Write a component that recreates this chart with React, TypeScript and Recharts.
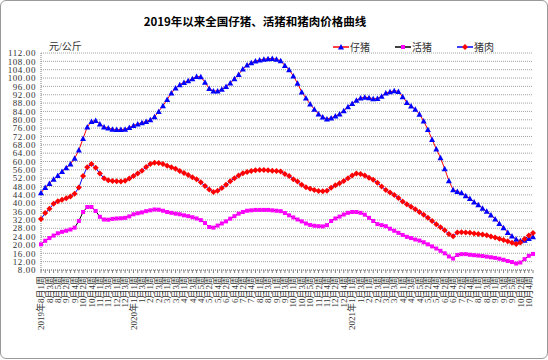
import { CartesianGrid, Line, LineChart, XAxis, YAxis } from 'recharts';

const weeks = [
  '2019年8月1周', '8月2周', '8月3周', '8月4周', '8月5周', '9月1周', '9月2周', '9月3周', '9月4周',
  '10月1周', '10月2周', '10月3周', '10月4周', '10月5周', '11月1周', '11月2周', '11月3周', '11月4周',
  '12月1周', '12月2周', '12月3周', '12月4周',
  '2020年1月1周', '1月2周', '1月3周', '1月4周', '2月1周', '2月2周', '2月3周', '2月4周',
  '3月1周', '3月2周', '3月3周', '3月4周', '4月1周', '4月2周', '4月3周', '4月4周', '4月5周',
  '5月1周', '5月2周', '5月3周', '5月4周', '6月1周', '6月2周', '6月3周', '6月4周',
  '7月1周', '7月2周', '7月3周', '7月4周', '7月5周', '8月1周', '8月2周', '8月3周', '8月4周',
  '9月1周', '9月2周', '9月3周', '9月4周', '10月1周', '10月2周', '10月3周', '10月4周', '10月5周',
  '11月1周', '11月2周', '11月3周', '11月4周', '12月1周', '12月2周', '12月3周', '12月4周', '12月5周',
  '2021年1月1周', '1月2周', '1月3周', '1月4周', '2月1周', '2月2周', '2月3周', '2月4周',
  '3月1周', '3月2周', '3月3周', '3月4周', '4月1周', '4月2周', '4月3周', '4月4周', '4月5周',
  '5月1周', '5月2周', '5月3周', '5月4周', '6月1周', '6月2周', '6月3周', '6月4周',
  '7月1周', '7月2周', '7月3周', '7月4周', '7月5周', '8月1周', '8月2周', '8月3周', '8月4周',
  '9月1周', '9月2周', '9月3周', '9月4周', '9月5周', '10月1周', '10月2周', '10月3周', '10月4周',
  '11月1周',
];

// 仔猪
const piglet = [
  45.0, 47.5, 49.5, 51.5, 53.3, 55.2, 57.0, 58.8, 61.5, 65.5,
  71.0, 76.5, 79.2, 79.6, 78.0, 76.5, 76.0, 75.5, 75.3, 75.3,
  75.5, 76.3, 77.3, 78.0, 78.6, 79.2, 80.0, 81.4, 84.0, 86.7,
  89.7, 92.8, 95.2, 96.8, 97.9, 98.7, 99.7, 100.7, 100.6, 98.0,
  95.0, 93.8, 93.8, 94.6, 96.0, 97.6, 99.6, 101.7, 104.3, 106.2,
  107.3, 108.2, 108.6, 109.0, 109.3, 109.4, 109.0, 108.3, 106.0, 104.0,
  101.0, 97.5, 93.3, 90.4, 87.5, 85.0, 82.8, 81.3, 80.4, 80.9,
  81.8, 82.8, 84.3, 86.2, 87.8, 89.4, 90.4, 90.8, 90.6, 90.1,
  90.2, 91.3, 92.8, 93.4, 93.9, 93.6, 91.0, 88.3, 86.6, 85.0,
  82.7, 79.4, 75.3, 70.6, 66.0, 61.8, 56.5, 50.8, 46.5, 45.6,
  45.0, 43.6, 42.3, 40.6, 39.3, 37.6, 36.1, 34.3, 32.5, 30.3,
  28.3, 26.0, 24.3, 22.7, 22.0, 22.3, 23.1, 23.9,
];

// 活猪
const hog = [
  20.3, 22.0, 23.3, 24.5, 25.6, 26.3, 26.8, 27.4, 28.3, 31.5,
  35.8, 38.2, 38.2, 36.3, 33.5, 32.2, 32.1, 32.5, 32.7, 32.8,
  33.0, 33.7, 34.7, 35.2, 35.6, 36.2, 36.6, 37.0, 36.9, 36.4,
  35.8, 35.4, 35.0, 34.7, 34.2, 33.8, 33.3, 32.7, 31.9, 30.5,
  28.6, 28.3, 29.3, 30.3, 31.3, 32.6, 33.8, 35.0, 35.8, 36.4,
  36.6, 36.8, 36.8, 36.8, 36.8, 36.6, 36.4, 36.2, 35.3, 34.2,
  33.2, 32.2, 31.3, 30.3, 29.6, 29.2, 29.0, 28.9, 29.5, 31.5,
  32.7, 33.6, 34.6, 35.4, 35.8, 35.8, 35.4, 34.5, 33.0, 31.5,
  30.0, 29.5, 29.0, 27.8, 26.8, 25.8, 24.8, 23.9, 23.3, 22.6,
  22.1, 21.3, 20.3, 19.3, 18.3, 17.2, 16.0, 14.5, 13.5, 15.2,
  15.6, 15.6, 15.3, 15.1, 14.9, 14.7, 14.4, 14.1, 13.8, 13.4,
  12.9, 12.3, 11.8, 11.1, 11.6, 13.2, 14.8, 15.7,
];

// 猪肉
const pork = [
  32.5, 35.3, 37.3, 39.8, 41.0, 41.7, 42.4, 43.2, 44.6, 47.5,
  53.0, 57.3, 58.8, 57.0, 54.2, 52.0, 51.0, 50.7, 50.5, 50.4,
  50.8, 51.8, 53.0, 54.2, 55.6, 57.4, 58.8, 59.4, 59.3, 58.8,
  58.0, 57.3, 56.5, 55.5, 54.5, 53.5, 52.5, 51.5, 50.0, 48.3,
  46.6, 45.4, 46.0, 47.3, 48.8, 50.5, 52.0, 53.3, 54.4, 55.0,
  55.5, 55.8, 55.9, 55.9, 55.8, 55.6, 55.4, 55.2, 54.0, 53.0,
  51.5, 50.4, 48.8, 47.7, 46.9, 46.3, 45.9, 45.8, 46.0, 47.4,
  48.6, 49.6, 50.6, 52.0, 53.3, 54.3, 54.0, 53.3, 52.2, 51.2,
  49.8, 48.0, 46.4, 45.2, 43.9, 42.5, 40.8, 39.5, 38.3, 37.1,
  35.8, 34.5, 33.0, 31.5, 29.9, 28.5, 27.0, 25.3, 24.2, 26.0,
  26.1, 26.0, 25.8, 25.5, 25.3, 25.0, 24.6, 24.1, 23.6, 23.0,
  22.4, 21.8, 21.1, 20.5, 21.2, 22.8, 24.5, 25.7,
];

const yTicks = [
  8, 12, 16, 20, 24, 28, 32, 36, 40, 44, 48, 52, 56, 60, 64, 68, 72, 76, 80, 84, 88, 92, 96, 100, 104, 108, 112,
];

const data = weeks.map((week, i) => ({ week, piglet: piglet[i], hog: hog[i], pork: pork[i] }));

const FONT = '"Liberation Serif", "Noto Sans CJK SC", serif';

const WeekTick = (props: any) => {
  const { x, y, payload, index } = props;
  if (index % 2 !== 0) return null;
  return (
    <text
      x={x}
      y={y + 1}
      transform={`rotate(-90 ${x} ${y + 1})`}
      textAnchor="end"
      dy="0.35em"
      fontSize={9}
      fontFamily={FONT}
      fill="#333"
    >
      {payload.value}
    </text>
  );
};

const Triangle = (props: any) => {
  const { cx, cy, fill, index } = props;
  if (cx == null || cy == null) return null;
  return <path key={index} d={`M${cx},${cy - 3} L${cx + 3},${cy + 2.5} L${cx - 3},${cy + 2.5} Z`} fill={fill} />;
};

const Square = (props: any) => {
  const { cx, cy, fill, index } = props;
  if (cx == null || cy == null) return null;
  return <rect key={index} x={cx - 2} y={cy - 2} width={4} height={4} fill={fill} />;
};

const Diamond = (props: any) => {
  const { cx, cy, fill, index } = props;
  if (cx == null || cy == null) return null;
  return <path key={index} d={`M${cx},${cy - 3} L${cx + 3},${cy} L${cx},${cy + 3} L${cx - 3},${cy} Z`} fill={fill} />;
};

const legendItems = [
  { name: '仔猪', line: '#ff0000', marker: '#0000ff', shape: 'tri' },
  { name: '活猪', line: '#000000', marker: '#ff00ff', shape: 'sq' },
  { name: '猪肉', line: '#0000ff', marker: '#ff0000', shape: 'dia' },
];

const LegendBox = () => (
  <div
    style={{
      position: 'absolute',
      top: 38,
      left: 332,
      display: 'flex',
      fontFamily: FONT,
      fontSize: 10,
      color: '#333',
    }}
  >
    {legendItems.map((it, i) => (
      <div key={it.name} style={{ display: 'flex', alignItems: 'center', marginRight: i < 2 ? 25 : 0 }}>
        <svg width={16} height={10}>
          <line x1={0} y1={5} x2={16} y2={5} stroke={it.line} strokeWidth={1.5} />
          {it.shape === 'tri' && <path d="M8,2 L11,7.5 L5,7.5 Z" fill={it.marker} />}
          {it.shape === 'sq' && <rect x={6} y={3} width={4} height={4} fill={it.marker} />}
          {it.shape === 'dia' && <path d="M8,2 L11,5 L8,8 L5,5 Z" fill={it.marker} />}
        </svg>
        <span style={{ marginLeft: 1 }}>{it.name}</span>
      </div>
    ))}
  </div>
);

export default function App() {
  return (
    <div
      style={{
        position: 'absolute',
        left: 0,
        top: 0,
        width: 546,
        height: 357,
        border: '1px solid #999',
        borderRadius: 6,
        background: '#fff',
      }}
    >
      <div
        style={{
          position: 'absolute',
          left: 0,
          top: 12,
          width: 508,
          textAlign: 'center',
          fontFamily: '"Noto Sans CJK SC", sans-serif',
          fontWeight: 'bold',
          fontSize: 11.5,
          color: '#000',
        }}
      >
        2019年以来全国仔猪、活猪和猪肉价格曲线
      </div>
      <div
        style={{
          position: 'absolute',
          left: 48,
          top: 37,
          fontFamily: FONT,
          fontSize: 10,
          color: '#333',
        }}
      >
        元/公斤
      </div>
      <LegendBox />
      <LineChart
        width={546}
        height={357}
        data={data}
        margin={{ top: 52, right: 14, left: 0, bottom: 8 }}
      >
        <CartesianGrid vertical={false} stroke="#a0a0a0" strokeDasharray="1 1" />
        <XAxis
          dataKey="week"
          interval={0}
          tick={<WeekTick />}
          tickSize={3}
          height={80}
          axisLine={{ stroke: '#808080', strokeDasharray: '1 1' }}
          tickLine={{ stroke: '#808080' }}
        />
        <YAxis
          domain={[8, 112]}
          ticks={yTicks}
          interval={0}
          width={40}
          tickSize={3}
          tickFormatter={(v: number) => v.toFixed(2)}
          tick={{ fontSize: 9, fontFamily: FONT, fill: '#333', letterSpacing: 0.6 }}
          axisLine={{ stroke: '#808080', strokeDasharray: '1 1' }}
          tickLine={false}
        />
        <YAxis
          yAxisId="frame"
          orientation="right"
          domain={[8, 112]}
          width={0}
          tick={false}
          tickLine={false}
          axisLine={{ stroke: '#808080', strokeDasharray: '1 1' }}
        />
        <Line
          type="linear"
          dataKey="piglet"
          name="仔猪"
          stroke="#ff0000"
          strokeWidth={1}
          dot={<Triangle fill="#0000ff" />}
          isAnimationActive={false}
        />
        <Line
          type="linear"
          dataKey="hog"
          name="活猪"
          stroke="#000000"
          strokeWidth={1}
          dot={<Square fill="#ff00ff" />}
          isAnimationActive={false}
        />
        <Line
          type="linear"
          dataKey="pork"
          name="猪肉"
          stroke="#0000ff"
          strokeWidth={1}
          dot={<Diamond fill="#ff0000" />}
          isAnimationActive={false}
        />
      </LineChart>
    </div>
  );
}
